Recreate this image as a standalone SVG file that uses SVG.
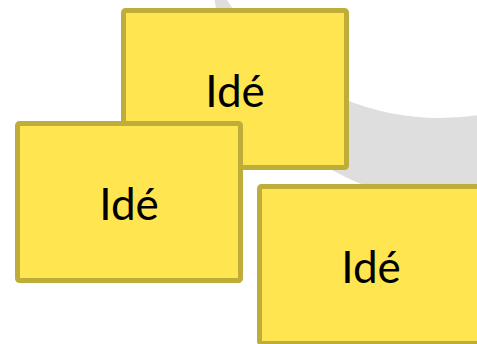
<svg xmlns="http://www.w3.org/2000/svg" width="477" height="344" viewBox="0 0 477 344">
<style>
.box{fill:#FFE650;stroke:#BFAD3A;stroke-width:5}
.lbl{font-family:Lato,"Open Sans","Liberation Sans",sans-serif;font-size:44px;fill:#000;text-anchor:middle}
.ring{fill:#DEDEDE;fill-rule:evenodd}
</style>
<rect width="477" height="344" fill="#fff"/>
<g id="background">
<path class="ring" d="M212,-35 a235,235 0 1,0 470,0 a235,235 0 1,0 -470,0 Z M189,-133 a251,251 0 1,0 502,0 a251,251 0 1,0 -502,0 Z"/>
</g>
<g id="connectors"></g>
<g id="node2">
<rect class="box" x="123.5" y="10.5" width="223" height="157" rx="2"/>
<text class="lbl" x="235" y="107">Idé</text>
</g>
<g id="node1">
<rect class="box" x="17.5" y="123.5" width="223" height="157" rx="2"/>
<text class="lbl" x="129" y="220">Idé</text>
</g>
<g id="node3">
<rect class="box" x="259.5" y="186.5" width="223" height="157" rx="2"/>
<text class="lbl" x="371" y="283">Idé</text>
</g>
</svg>
